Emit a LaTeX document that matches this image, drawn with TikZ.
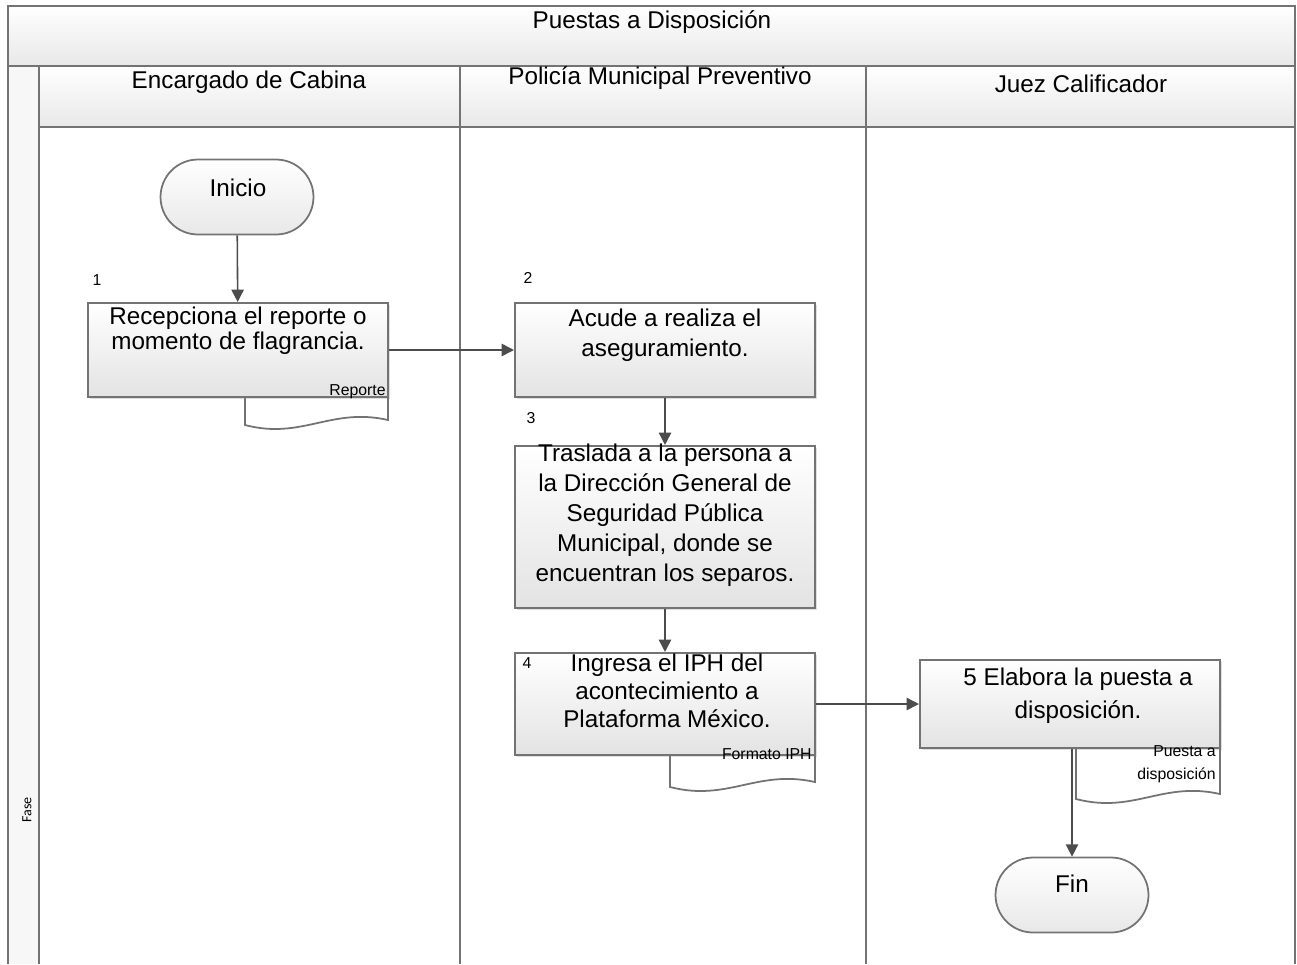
\documentclass[tikz,border=0pt]{standalone}
\usepackage{fontspec}
\setmainfont{Liberation Sans}
\newfontfamily\fasefont{Carlito}
\usetikzlibrary{arrows.meta,
                shapes.misc,
                shadows,
                positioning}

\tikzset{
  lane/.style={draw=black!55,line width=1pt},
  head/.style={lane,top color=white,bottom color=black!9},
  stepbox/.style={draw=black!55,line width=1.2pt,top color=white,bottom color=black!11,
    minimum width=6cm,inner sep=0pt,
    drop shadow={shadow xshift=1.3pt,shadow yshift=-1.3pt,opacity=.25}},
  term/.style={rounded rectangle,draw=black!55,line width=1pt,top color=white,bottom color=black!9,
    minimum width=3.06cm,minimum height=1.5cm,inner sep=0pt},
  doc/.style={draw=black!55,line width=1pt,fill=white},
  txt/.style={font=\fontsize{13.8}{17}\selectfont,align=center,inner sep=0pt},
  num/.style={font=\fontsize{9}{11}\selectfont,inner sep=0pt},
  small/.style={font=\fontsize{9}{13}\selectfont,inner sep=0pt,align=right},
  flow/.style={draw=black!70,line width=0.9pt,-{Triangle[length=7pt,width=7pt]}}
}

\begin{document}
\begin{tikzpicture}[x=0.02cm,y=-0.02cm]
 \useasboundingbox (0,0) rectangle (1297,964);
 \fill[black!3] (8,66) rectangle (39,964);
 \draw[head] (8,6) rectangle (1295,66);
 \draw[head] (39,66) rectangle (460,127);
 \draw[head] (460,66) rectangle (866,127);
 \draw[head] (866,66) rectangle (1295,127);
 \draw[lane] (8,66) -- (8,964) (39,66) -- (39,964) (460,127) -- (460,964)
   (866,127) -- (866,964) (1295,127) -- (1295,964);
 \node[txt] (title) at (652,22) {Puestas a Disposición};
 \node[txt] (cabina) at (249,82) {Encargado de Cabina};
 \node[txt] (policia) at (660,78) {Policía Municipal Preventivo};
 \node[txt] (juez) at (1081,84) {Juez Calificador};
 \node[font=\fasefont\fontsize{8}{10}\selectfont,rotate=90,inner sep=0pt] (fase) at (27,810) {Fase};

 \draw[doc] (245,390) -- (245,425) .. controls (302,440) and (331,407) .. (388,420) -- (388,390);
 \draw[doc] (670,748) -- (670,787) .. controls (728,802) and (757,769) .. (815,782) -- (815,748);
 \draw[doc] (1076,740) -- (1076,799) .. controls (1134,814) and (1162,781) .. (1220,794) -- (1220,740);

 \node[term] (ini) at (237,197) {};
 \node[stepbox,minimum height=1.88cm] (rep) at (238,350) {};
 \node[stepbox,minimum height=1.88cm] (acude) at (665,350) {};
 \node[stepbox,minimum height=3.24cm] (traslada) at (665,527) {};
 \node[stepbox,minimum height=2.04cm] (ingresa) at (665,704) {};
 \node[stepbox,minimum height=1.76cm] (elabora) at (1070,704) {};
 \node[term] (fin) at (1072,895) {};

 \node[txt] (tini) at (238,188) {Inicio};
 \node[txt,font=\fontsize{13.8}{14.2}\selectfont] (trep) at (238,331) {Recepciona el reporte o\\momento de flagrancia.};
 \node[txt] (tacude) at (665,335) {Acude a realiza el\\aseguramiento.};
 \node[txt] (ttraslada) at (665,515) {Traslada a la persona a\\la Dirección General de\\Seguridad Pública\\Municipal, donde se\\encuentran los separos.};
 \node[txt,font=\fontsize{13.8}{16}\selectfont] (tingresa) at (667,691) {Ingresa el IPH del\\acontecimiento a\\Plataforma México.};
 \node[txt,font=\fontsize{13.8}{18.8}\selectfont] (telabora) at (1078,696) {5 Elabora la puesta a\\disposición.};
 \node[txt] (tfin) at (1072,884) {Fin};

 \node[num] (n1) at (97,280) {1};
 \node[num] (n2) at (528,278) {2};
 \node[num] (n3) at (531,418) {3};
 \node[num] (n4) at (527,663) {4};
 \node[small,anchor=east] (reporte) at (386,392) {Reporte};
 \node[small,anchor=east] (iph) at (812,754) {Formato IPH};
 \node[small,anchor=north east] (puesta) at (1216,745) {Puesta a\\disposición};

 \draw[flow] (ini) -- (rep);
 \draw[flow] (rep) -- (acude);
 \draw[flow] (acude) -- (traslada);
 \draw[flow] (traslada) -- (ingresa);
 \draw[flow] (ingresa) -- (elabora);
 \draw[flow] (elabora.south -| fin.north) -- (fin);
\end{tikzpicture}
\end{document}
